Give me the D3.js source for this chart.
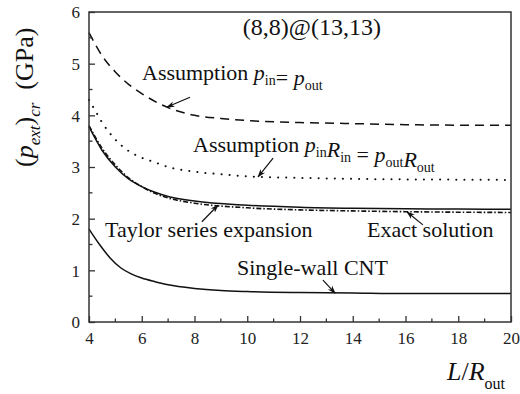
<!DOCTYPE html>
<html>
<head>
<meta charset="utf-8">
<script src="https://cdn.jsdelivr.net/npm/d3@7"></script>
<style>
  body { margin: 0; background: #fff; }
</style>
</head>
<body>
<svg id="chart" width="520" height="394"></svg>
<script>
// values
const xTicks = [4, 6, 8, 10, 12, 14, 16, 18, 20];
const yTicks = [0, 1, 2, 3, 4, 5, 6];

const xDashed = [4, 4.5, 5, 5.5, 6, 7, 8, 9, 10, 12, 14, 16, 18, 20];
const yDashed = [5.6, 5.15, 4.84, 4.6, 4.42, 4.15, 4.0, 3.94, 3.9, 3.86, 3.84, 3.82, 3.81, 3.81];

const xDotted = [4, 4.25, 4.5, 5, 5.5, 6, 6.5, 7, 8, 9, 10, 12, 14, 16, 18, 20];
const yDotted = [4.3, 4.08, 3.86, 3.53, 3.31, 3.18, 3.09, 3.0, 2.91, 2.86, 2.82, 2.79, 2.77, 2.76, 2.755, 2.75];

const xExact = [4, 4.5, 5, 5.5, 6, 6.5, 7, 8, 10, 12, 14, 16, 18, 20];
const yExact = [3.78, 3.32, 3.0, 2.77, 2.62, 2.51, 2.43, 2.34, 2.26, 2.22, 2.2, 2.19, 2.185, 2.18];

const xTaylor = [4, 4.5, 5, 5.5, 6, 6.5, 7, 8, 10, 12, 14, 16, 18, 20];
const yTaylor = [3.8, 3.36, 3.04, 2.79, 2.62, 2.49, 2.4, 2.3, 2.21, 2.17, 2.15, 2.135, 2.125, 2.12];

const xSingle = [4, 4.4, 4.8, 5.2, 5.6, 6, 6.5, 7, 8, 9, 10, 12, 14, 16, 18, 20];
const ySingle = [1.8, 1.5, 1.24, 1.05, 0.93, 0.85, 0.78, 0.72, 0.65, 0.61, 0.59, 0.57, 0.56, 0.55, 0.55, 0.55];

const FONT = "Liberation Serif";
const margin = { top: 12, right: 9, bottom: 72, left: 89 };
const width = 520, height = 394;

const svg = d3.select("#chart").attr("font-family", FONT);
const x = d3.scaleLinear().domain([4, 20]).range([margin.left, width - margin.right]);
const y = d3.scaleLinear().domain([0, 6]).range([height - margin.bottom, margin.top]);

const zip = (xs, ys) => xs.map((v, i) => [v, ys[i]]);
const line = d3.line().x(d => x(d[0])).y(d => y(d[1])).curve(d3.curveMonotoneX);

const plot = svg.append("g");

plot.append("path").datum(zip(xTaylor, yTaylor))
  .attr("d", line).attr("fill", "none").attr("stroke", "#111")
  .attr("stroke-width", 1.6).attr("stroke-dasharray", "5,2,1.5,2");

plot.append("path").datum(zip(xExact, yExact))
  .attr("d", line).attr("fill", "none").attr("stroke", "#111").attr("stroke-width", 1.5);

plot.append("path").datum(zip(xDashed, yDashed))
  .attr("d", line).attr("fill", "none").attr("stroke", "#111")
  .attr("stroke-width", 1.5).attr("stroke-dasharray", "9,6");

plot.append("path").datum(zip(xDotted, yDotted))
  .attr("d", line).attr("fill", "none").attr("stroke", "#111")
  .attr("stroke-width", 2).attr("stroke-linecap", "round").attr("stroke-dasharray", "0.1,8");

plot.append("path").datum(zip(xSingle, ySingle))
  .attr("d", line).attr("fill", "none").attr("stroke", "#111").attr("stroke-width", 1.5);

// frame + ticks
svg.append("rect")
  .attr("x", x(4)).attr("y", y(6))
  .attr("width", x(20) - x(4)).attr("height", y(0) - y(6))
  .attr("fill", "none").attr("stroke", "#333").attr("stroke-width", 1.5);

const xAxis = svg.append("g").attr("transform", `translate(0,${y(0)})`)
  .call(d3.axisBottom(x).tickValues(xTicks).tickSize(-6).tickPadding(10).tickFormat(d3.format("d")));
xAxis.append("g").selectAll("line").data(d3.range(5, 20, 2)).join("line")
  .attr("x1", d => x(d)).attr("x2", d => x(d)).attr("y1", 0).attr("y2", -3.5)
  .attr("stroke", "#333").attr("stroke-width", 1.3);

const yAxis = svg.append("g").attr("transform", `translate(${x(4)},0)`)
  .call(d3.axisLeft(y).tickValues(yTicks).tickSize(-6).tickPadding(9).tickFormat(d3.format("d")));
yAxis.append("g").selectAll("line").data(d3.range(0.5, 6, 1)).join("line")
  .attr("y1", d => y(d)).attr("y2", d => y(d)).attr("x1", 0).attr("x2", 3.5)
  .attr("stroke", "#333").attr("stroke-width", 1.3);

[xAxis, yAxis].forEach(a => {
  a.attr("font-family", FONT).attr("font-size", 17);
  a.select(".domain").remove();
  a.selectAll(".tick line").attr("stroke", "#333").attr("stroke-width", 1.3);
  a.selectAll(".tick text").attr("fill", "#222");
});
yAxis.selectAll(".tick text").attr("dy", "0.34em");

// arrow head marker
svg.append("defs").append("marker")
  .attr("id", "head").attr("viewBox", "0 0 10 10").attr("refX", 9).attr("refY", 5)
  .attr("markerWidth", 7).attr("markerHeight", 7).attr("orient", "auto")
  .append("path").attr("d", "M0,1.5 L10,5 L0,8.5 L3,5 Z").attr("fill", "#111");

// annotation arrows (data units)
const arrows = [
  [7.83, 4.35, 6.96, 4.16],
  [10.98, 3.17, 10.41, 2.81],
  [8.28, 1.94, 8.89, 2.26],
  [16.66, 1.88, 16.06, 2.13],
  [12.87, 0.81, 13.33, 0.56]
];
svg.append("g").selectAll("line").data(arrows).join("line")
  .attr("x1", d => x(d[0])).attr("y1", d => y(d[1]))
  .attr("x2", d => x(d[2])).attr("y2", d => y(d[3]))
  .attr("stroke", "#111").attr("stroke-width", 1.2).attr("marker-end", "url(#head)");

// labels
const lab = svg.append("g").attr("font-size", 22).attr("fill", "#111");

lab.append("text").attr("x", x(12.45)).attr("y", 35)
  .attr("text-anchor", "middle").attr("font-size", 24).text("(8,8)@(13,13)");

function sub(t, main, s) {
  t.append("tspan").attr("font-style", "italic").text(main);
  t.append("tspan").attr("dy", 5).attr("font-size", 14).text(s);
  t.append("tspan").attr("dy", -5).text("");
}

let t1 = lab.append("text").attr("x", 142).attr("y", 80);
t1.append("tspan").text("Assumption ");
sub(t1, "p", "in");
t1.append("tspan").text("= ");
sub(t1, "p", "out");

let t2 = lab.append("text").attr("x", 193).attr("y", 152);
t2.append("tspan").text("Assumption ");
sub(t2, "p", "in");
sub(t2, "R", "in");
t2.append("tspan").text(" = ");
sub(t2, "p", "out");
sub(t2, "R", "out");

lab.append("text").attr("x", 105).attr("y", 237).text("Taylor series expansion");
lab.append("text").attr("x", 367).attr("y", 237).text("Exact solution");
lab.append("text").attr("x", 237).attr("y", 275).text("Single-wall CNT");

// axis titles
const xt = svg.append("text").attr("x", 447).attr("y", 380).attr("font-size", 26).attr("fill", "#111");
xt.append("tspan").attr("font-style", "italic").text("L");
xt.append("tspan").text("/");
xt.append("tspan").attr("font-style", "italic").text("R");
xt.append("tspan").attr("dy", 9).attr("font-size", 16).text("out");

const yt = svg.append("text").attr("transform", "translate(33,167) rotate(-90)")
  .attr("font-size", 26).attr("fill", "#111");
yt.append("tspan").text("(");
yt.append("tspan").attr("font-style", "italic").text("p");
yt.append("tspan").attr("dy", 7).attr("font-style", "italic").attr("font-size", 17).text("ext");
yt.append("tspan").attr("dy", -7).text(")");
yt.append("tspan").attr("dy", 7).attr("font-style", "italic").attr("font-size", 17).text("cr");
yt.append("tspan").attr("dy", -7).text("\u00a0\u00a0(GPa)");
</script>
</body>
</html>
